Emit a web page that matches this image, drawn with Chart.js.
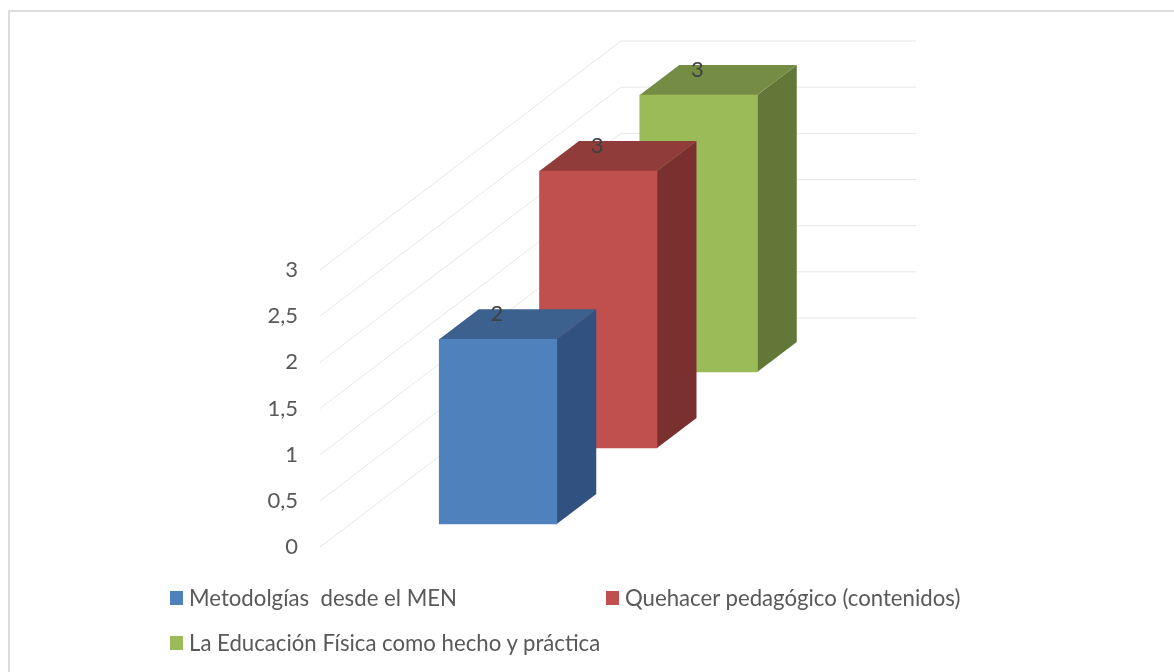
<!DOCTYPE html>
<html>
<head>
<meta charset="utf-8">
<title>Metodologías</title>
<script src="https://cdn.jsdelivr.net/npm/chart.js@4"></script>
<style>
    html, body { margin: 0; padding: 0; background: #fff; }
    #wrap { position: relative; width: 1174px; height: 672px; overflow: hidden; }
    #frame { position: absolute; left: 8px; top: 10px; width: 1170px; height: 670px; border: 2px solid #dcdcdc; box-sizing: border-box; }
    canvas { position: absolute; left: 0; top: 0; }
    .legend-item { position: absolute; font: 22.2px Lato, sans-serif; color: #595959; white-space: pre; line-height: 24px; }
    .legend-item i { position: absolute; left: -19px; top: 5px; width: 13px; height: 14px; }
</style>
</head>
<body>
<div id="wrap">
    <div id="frame"></div>
    <canvas id="chart" width="1174" height="672"></canvas>
    <div id="legend"></div>
</div>
<script>
// One category, three series
const categories = [''];
const seriesNames = ['Metodolgías  desde el MEN', 'Quehacer pedagógico (contenidos)', 'La Educación Física como hecho y práctica'];
const metodologias = [2];
const quehacer = [3];
const educacionFisica = [3];

const frontColors = ['#4f81bd', '#c0504d', '#9bbb59'];
const topColors = ['#3c618f', '#903c3a', '#748c43'];
const sideColors = ['#315280', '#7a302e', '#637738'];

// Floor/wall geometry of the pseudo 3D box (pixels)
const wallDepth = { x: 301, y: -229 };
const barDepth = { x: 39.5, y: -30 };
const wallWidth = 295;
const slotOffset = i => ({ x: 30.5 + 100.25 * i, y: -(23 + 76 * i) });

// Shifts each bar back along the depth axis and draws its extruded faces
const depthPlugin = {
    id: 'depth',
    afterDatasetsUpdate(chart) {
        chart.data.datasets.forEach((ds, i) => {
            const off = slotOffset(i);
            chart.getDatasetMeta(i).data.forEach(bar => {
                bar.x += off.x;
                bar.y += off.y;
                bar.base += off.y;
            });
        });
    },
    beforeDatasetsDraw(chart) {
        const { ctx, scales: { y } } = chart;
        const left = chart.chartArea.left;
        ctx.save();
        ctx.strokeStyle = '#e6e6e6';
        ctx.lineWidth = 1;
        y.ticks.forEach(tick => {
            const py = y.getPixelForValue(tick.value);
            ctx.beginPath();
            ctx.moveTo(left, py);
            ctx.lineTo(left + wallDepth.x, py + wallDepth.y);
            ctx.lineTo(left + wallDepth.x + wallWidth, py + wallDepth.y);
            ctx.stroke();
        });
        ctx.restore();
    },
    beforeDatasetDraw(chart, args) {
        const { ctx } = chart;
        const i = args.index;
        args.meta.data.forEach(bar => {
            const l = bar.x - bar.width / 2;
            const r = bar.x + bar.width / 2;
            const dx = barDepth.x;
            const dy = barDepth.y;
            ctx.save();
            ctx.fillStyle = sideColors[i];
            ctx.beginPath();
            ctx.moveTo(r, bar.y);
            ctx.lineTo(r + dx, bar.y + dy);
            ctx.lineTo(r + dx, bar.base + dy);
            ctx.lineTo(r, bar.base);
            ctx.closePath();
            ctx.fill();
            ctx.fillStyle = topColors[i];
            ctx.beginPath();
            ctx.moveTo(l, bar.y);
            ctx.lineTo(l + dx, bar.y + dy);
            ctx.lineTo(r + dx, bar.y + dy);
            ctx.lineTo(r, bar.y);
            ctx.closePath();
            ctx.fill();
            ctx.restore();
        });
    },
    afterDatasetsDraw(chart) {
        const { ctx } = chart;
        ctx.save();
        ctx.font = '22px Lato, sans-serif';
        ctx.fillStyle = '#404040';
        ctx.textAlign = 'center';
        ctx.textBaseline = 'middle';
        chart.data.datasets.forEach((ds, i) => {
            chart.getDatasetMeta(i).data.forEach((bar, j) => {
                ctx.fillText(String(ds.data[j]), bar.x - 1, bar.y - 25);
            });
        });
        ctx.restore();
    }
};

new Chart(document.getElementById('chart'), {
    type: 'bar',
    data: {
        labels: categories,
        datasets: [metodologias, quehacer, educacionFisica].map((values, i) => ({
            label: seriesNames[i],
            data: values,
            backgroundColor: frontColors[i],
            barThickness: 117.5,
            clip: false
        }))
    },
    options: {
        responsive: false,
        animation: false,
        layout: { padding: { top: 270, bottom: 125, left: 0, right: 559 } },
        plugins: { legend: { display: false }, tooltip: { enabled: false } },
        scales: {
            x: { stacked: true, display: false },
            y: {
                min: 0,
                max: 3,
                afterFit(axis) { axis.width = 320; },
                border: { display: false },
                grid: { display: false },
                ticks: {
                    stepSize: 0.5,
                    padding: 14,
                    color: '#595959',
                    font: { family: 'Lato, sans-serif', size: 22 },
                    callback: value => String(value).replace('.', ',')
                }
            }
        }
    },
    plugins: [depthPlugin]
});

// Legend placed by hand in two rows
const legendSpots = [[189, 586], [625, 586], [189, 631]];
const legend = document.getElementById('legend');
seriesNames.forEach((name, i) => {
    const item = document.createElement('div');
    item.className = 'legend-item';
    item.style.left = legendSpots[i][0] + 'px';
    item.style.top = legendSpots[i][1] + 'px';
    item.textContent = name;
    const swatch = document.createElement('i');
    swatch.style.background = frontColors[i];
    item.appendChild(swatch);
    legend.appendChild(item);
});
</script>
</body>
</html>
